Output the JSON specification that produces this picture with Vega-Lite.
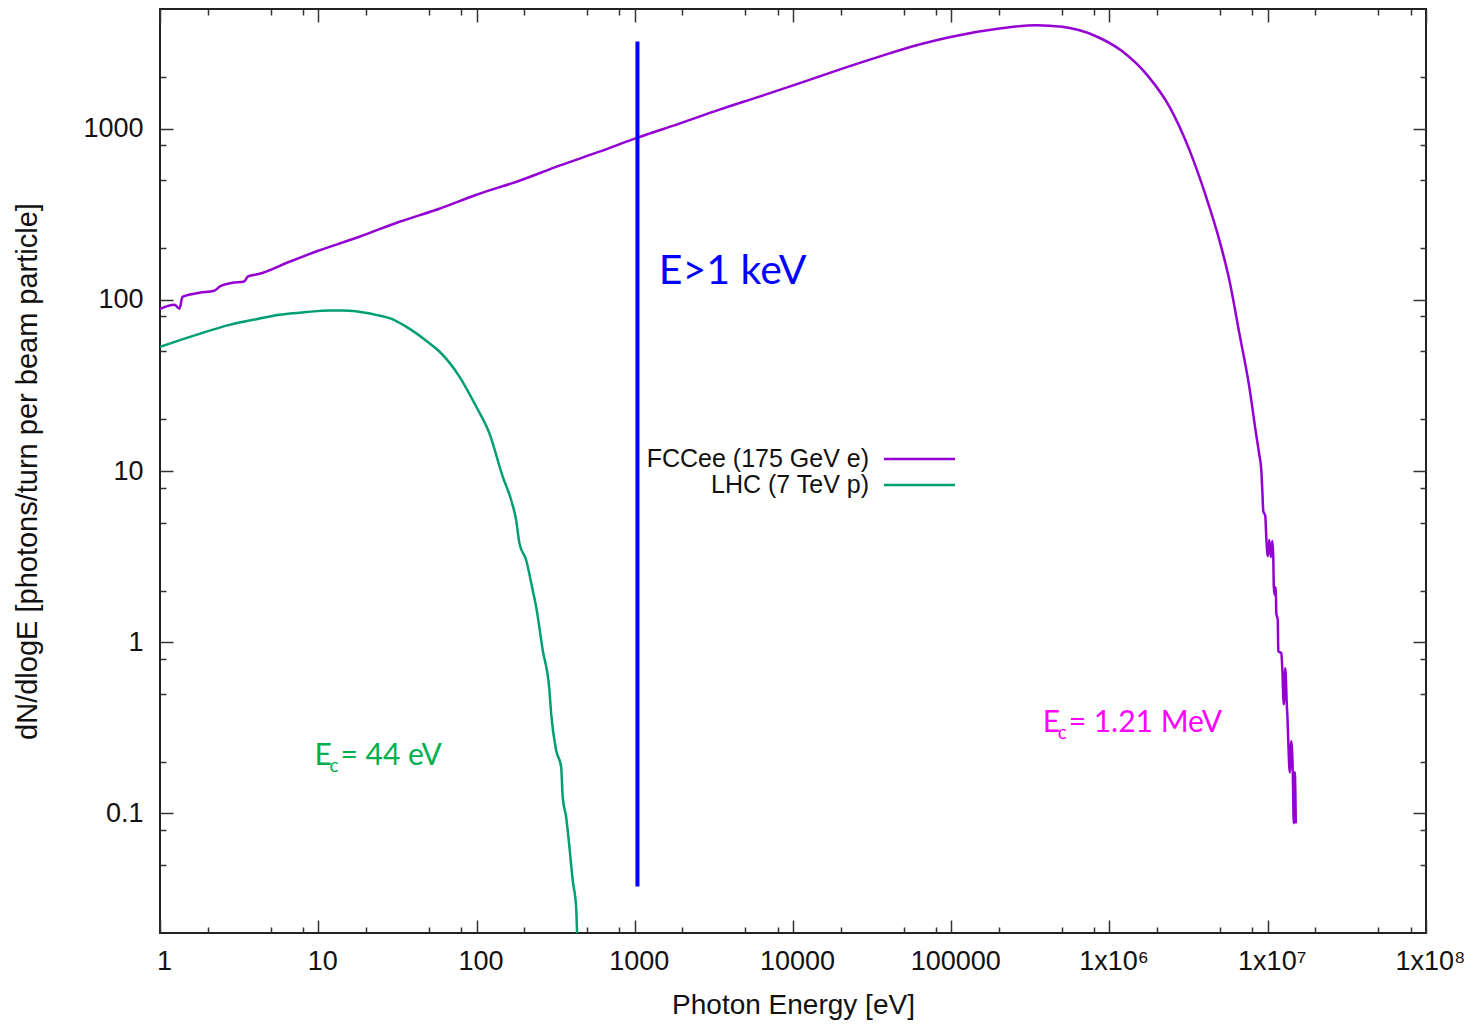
{
  "$schema": "https://vega.github.io/schema/vega-lite/v6.json",
  "width": 1266,
  "height": 924,
  "autosize": {"type": "none"},
  "padding": {"left": 160, "top": 9, "right": 49, "bottom": 92},
  "background": "white",
  "config": {
    "font": "Liberation Sans",
    "view": {"stroke": "#222222", "strokeWidth": 2},
    "axis": {
      "grid": false, "domain": false, "tickColor": "#333333", "tickWidth": 1.5,
      "labelFont": "Liberation Sans", "labelFontSize": 27, "labelColor": "#111111",
      "titleFont": "Liberation Sans", "titleFontSize": 28, "titleColor": "#111111", "titleFontWeight": "normal",
      "labelOverlap": false
    }
  },
  "datasets": {
    "spectra": [
      {"E": 1, "N": 88.6, "beam": "FCCee (175 GeV e)"},
      {"E": 1.235, "N": 93.5, "beam": "FCCee (175 GeV e)"},
      {"E": 1.328, "N": 88.6, "beam": "FCCee (175 GeV e)"},
      {"E": 1.387, "N": 104.1, "beam": "FCCee (175 GeV e)"},
      {"E": 1.777, "N": 109.9, "beam": "FCCee (175 GeV e)"},
      {"E": 2.2, "N": 113, "beam": "FCCee (175 GeV e)"},
      {"E": 2.4, "N": 120, "beam": "FCCee (175 GeV e)"},
      {"E": 2.871, "N": 125.7, "beam": "FCCee (175 GeV e)"},
      {"E": 3.4, "N": 128, "beam": "FCCee (175 GeV e)"},
      {"E": 3.6, "N": 137, "beam": "FCCee (175 GeV e)"},
      {"E": 4.25, "N": 141.9, "beam": "FCCee (175 GeV e)"},
      {"E": 6.58, "N": 166.8, "beam": "FCCee (175 GeV e)"},
      {"E": 10, "N": 193.4, "beam": "FCCee (175 GeV e)"},
      {"E": 18.2, "N": 233.6, "beam": "FCCee (175 GeV e)"},
      {"E": 32.6, "N": 285.8, "beam": "FCCee (175 GeV e)"},
      {"E": 58.3, "N": 340.6, "beam": "FCCee (175 GeV e)"},
      {"E": 100, "N": 411, "beam": "FCCee (175 GeV e)"},
      {"E": 186.7, "N": 496.5, "beam": "FCCee (175 GeV e)"},
      {"E": 334, "N": 607.7, "beam": "FCCee (175 GeV e)"},
      {"E": 598, "N": 733.9, "beam": "FCCee (175 GeV e)"},
      {"E": 1039, "N": 886, "beam": "FCCee (175 GeV e)"},
      {"E": 1914, "N": 1070, "beam": "FCCee (175 GeV e)"},
      {"E": 3426, "N": 1292, "beam": "FCCee (175 GeV e)"},
      {"E": 6133, "N": 1539, "beam": "FCCee (175 GeV e)"},
      {"E": 10350, "N": 1808, "beam": "FCCee (175 GeV e)"},
      {"E": 19630, "N": 2213, "beam": "FCCee (175 GeV e)"},
      {"E": 35130, "N": 2636, "beam": "FCCee (175 GeV e)"},
      {"E": 62850, "N": 3099, "beam": "FCCee (175 GeV e)"},
      {"E": 97230, "N": 3420, "beam": "FCCee (175 GeV e)"},
      {"E": 201200, "N": 3843, "beam": "FCCee (175 GeV e)"},
      {"E": 343200, "N": 4019, "beam": "FCCee (175 GeV e)"},
      {"E": 503100, "N": 3932, "beam": "FCCee (175 GeV e)"},
      {"E": 821300, "N": 3466, "beam": "FCCee (175 GeV e)"},
      {"E": 1204000, "N": 2831, "beam": "FCCee (175 GeV e)"},
      {"E": 1784000, "N": 1987, "beam": "FCCee (175 GeV e)"},
      {"E": 2386000, "N": 1350, "beam": "FCCee (175 GeV e)"},
      {"E": 3193000, "N": 754, "beam": "FCCee (175 GeV e)"},
      {"E": 4070000, "N": 401.9, "beam": "FCCee (175 GeV e)"},
      {"E": 4940000, "N": 224.3, "beam": "FCCee (175 GeV e)"},
      {"E": 5713000, "N": 130.9, "beam": "FCCee (175 GeV e)"},
      {"E": 6607000, "N": 64.1, "beam": "FCCee (175 GeV e)"},
      {"E": 7640000, "N": 31.1, "beam": "FCCee (175 GeV e)"},
      {"E": 8420000, "N": 16.7, "beam": "FCCee (175 GeV e)"},
      {"E": 8843000, "N": 12.41, "beam": "FCCee (175 GeV e)"},
      {"E": 9103000, "N": 10.13, "beam": "FCCee (175 GeV e)"},
      {"E": 9237000, "N": 7.74, "beam": "FCCee (175 GeV e)"},
      {"E": 9372000, "N": 5.84, "beam": "FCCee (175 GeV e)"},
      {"E": 9647000, "N": 5.46, "beam": "FCCee (175 GeV e)"},
      {"E": 9790000, "N": 4.11, "beam": "FCCee (175 GeV e)"},
      {"E": 10007000, "N": 3.18, "beam": "FCCee (175 GeV e)"},
      {"E": 10226000, "N": 3.95, "beam": "FCCee (175 GeV e)"},
      {"E": 10452000, "N": 3.14, "beam": "FCCee (175 GeV e)"},
      {"E": 10683000, "N": 3.9, "beam": "FCCee (175 GeV e)"},
      {"E": 10839000, "N": 3.14, "beam": "FCCee (175 GeV e)"},
      {"E": 10919000, "N": 2.126, "beam": "FCCee (175 GeV e)"},
      {"E": 11079000, "N": 1.883, "beam": "FCCee (175 GeV e)"},
      {"E": 11242000, "N": 2.097, "beam": "FCCee (175 GeV e)"},
      {"E": 11324000, "N": 1.477, "beam": "FCCee (175 GeV e)"},
      {"E": 11572000, "N": 1.345, "beam": "FCCee (175 GeV e)"},
      {"E": 11657000, "N": 0.886, "beam": "FCCee (175 GeV e)"},
      {"E": 12178000, "N": 0.862, "beam": "FCCee (175 GeV e)"},
      {"E": 12356000, "N": 0.705, "beam": "FCCee (175 GeV e)"},
      {"E": 12627000, "N": 0.434, "beam": "FCCee (175 GeV e)"},
      {"E": 12906000, "N": 0.705, "beam": "FCCee (175 GeV e)"},
      {"E": 13191000, "N": 0.434, "beam": "FCCee (175 GeV e)"},
      {"E": 13346000, "N": 0.35, "beam": "FCCee (175 GeV e)"},
      {"E": 13482000, "N": 0.2637, "beam": "FCCee (175 GeV e)"},
      {"E": 13780000, "N": 0.1737, "beam": "FCCee (175 GeV e)"},
      {"E": 14082000, "N": 0.2637, "beam": "FCCee (175 GeV e)"},
      {"E": 14393000, "N": 0.1737, "beam": "FCCee (175 GeV e)"},
      {"E": 14604000, "N": 0.0874, "beam": "FCCee (175 GeV e)"},
      {"E": 14820000, "N": 0.1737, "beam": "FCCee (175 GeV e)"},
      {"E": 15037000, "N": 0.0874, "beam": "FCCee (175 GeV e)"},
      {"E": 1, "N": 53.1, "beam": "LHC (7 TeV p)"},
      {"E": 1.693, "N": 62.4, "beam": "LHC (7 TeV p)"},
      {"E": 2.749, "N": 71.4, "beam": "LHC (7 TeV p)"},
      {"E": 4.054, "N": 77.1, "beam": "LHC (7 TeV p)"},
      {"E": 5.69, "N": 81.7, "beam": "LHC (7 TeV p)"},
      {"E": 8.39, "N": 84.8, "beam": "LHC (7 TeV p)"},
      {"E": 11.77, "N": 86.6, "beam": "LHC (7 TeV p)"},
      {"E": 14.29, "N": 86.6, "beam": "LHC (7 TeV p)"},
      {"E": 15.75, "N": 86.2, "beam": "LHC (7 TeV p)"},
      {"E": 23.2, "N": 81.7, "beam": "LHC (7 TeV p)"},
      {"E": 28.2, "N": 78.2, "beam": "LHC (7 TeV p)"},
      {"E": 35.9, "N": 69.8, "beam": "LHC (7 TeV p)"},
      {"E": 50.4, "N": 55.8, "beam": "LHC (7 TeV p)"},
      {"E": 58.3, "N": 49.9, "beam": "LHC (7 TeV p)"},
      {"E": 78.0, "N": 35.6, "beam": "LHC (7 TeV p)"},
      {"E": 99.5, "N": 23.8, "beam": "LHC (7 TeV p)"},
      {"E": 120.7, "N": 16.6, "beam": "LHC (7 TeV p)"},
      {"E": 146.5, "N": 9.26, "beam": "LHC (7 TeV p)"},
      {"E": 165.5, "N": 6.77, "beam": "LHC (7 TeV p)"},
      {"E": 178.0, "N": 5.17, "beam": "LHC (7 TeV p)"},
      {"E": 186.7, "N": 3.79, "beam": "LHC (7 TeV p)"},
      {"E": 205.9, "N": 3.02, "beam": "LHC (7 TeV p)"},
      {"E": 226.6, "N": 2.01, "beam": "LHC (7 TeV p)"},
      {"E": 238.2, "N": 1.608, "beam": "LHC (7 TeV p)"},
      {"E": 262.1, "N": 0.898, "beam": "LHC (7 TeV p)"},
      {"E": 288.9, "N": 0.524, "beam": "LHC (7 TeV p)"},
      {"E": 296.2, "N": 0.3845, "beam": "LHC (7 TeV p)"},
      {"E": 318.6, "N": 0.2336, "beam": "LHC (7 TeV p)"},
      {"E": 342.6, "N": 0.1866, "beam": "LHC (7 TeV p)"},
      {"E": 350.6, "N": 0.1245, "beam": "LHC (7 TeV p)"},
      {"E": 368.5, "N": 0.0952, "beam": "LHC (7 TeV p)"},
      {"E": 386.6, "N": 0.0635, "beam": "LHC (7 TeV p)"},
      {"E": 405.5, "N": 0.0406, "beam": "LHC (7 TeV p)"},
      {"E": 426.1, "N": 0.0283, "beam": "LHC (7 TeV p)"},
      {"E": 432.3, "N": 0.0195, "beam": "LHC (7 TeV p)"}
    ],
    "cut": [{"E": 1040, "lo": 0.0374, "hi": 3228, "label": "E>1 keV", "ty": 124, "tx": 1420}],
    "critical": [
      {"E": 9.46, "v": 0.1909, "beam": "LHC", "rest": "= 44 eV"},
      {"E": 378000, "v": 0.2977, "beam": "FCCee", "rest": "= 1.21 MeV"}
    ]
  },
  "layer": [
    {
      "data": {"name": "spectra"},
      "mark": {"type": "line", "strokeWidth": 2.5, "clip": true, "interpolate": "monotone"},
      "encoding": {
        "x": {"field": "E", "type": "quantitative",
          "scale": {"type": "log", "domain": [1, 100000000], "nice": false},
          "axis": {"orient": "bottom", "values": [1, 10, 100, 1000, 10000, 100000, 1000000, 10000000, 100000000],
            "ticks": false, "tickSize": 0, "labelPadding": 15, "labelFlush": false, "labelOffset": 4,
            "labelExpr": "datum.value >= 1e8 ? '1x10\u2078' : datum.value >= 1e7 ? '1x10\u2077' : datum.value >= 1e6 ? '1x10\u2076' : format(datum.value, '~g')",
            "title": "Photon Energy [eV]", "titlePadding": 17}},
        "y": {"field": "N", "type": "quantitative",
          "scale": {"type": "log", "domain": [0.02, 5000], "nice": false},
          "axis": {"orient": "left", "values": [0.1, 1, 10, 100, 1000], "ticks": false, "tickSize": 0,
            "labelPadding": 17, "labelExpr": "format(datum.value, '~g')",
            "title": "dN/dlogE [photons/turn per beam particle]", "titleFontSize": 29, "titlePadding": 40}},
        "color": {"field": "beam", "type": "nominal",
          "scale": {"domain": ["FCCee (175 GeV e)", "LHC (7 TeV p)"], "range": ["#9400d3", "#009e73"]},
          "legend": {"orient": "none", "legendX": 700, "legendY": 437.5, "title": null,
            "symbolType": "M-5,0H5", "symbolSize": 201.6, "symbolStrokeWidth": 2.5,
            "labelAlign": "right", "labelOffset": -63, "symbolOffset": 47,
            "labelFont": "Liberation Sans", "labelFontSize": 25, "labelColor": "#111111",
            "labelLimit": 500, "padding": 0, "rowPadding": 0}}
      }
    },
    {
      "data": {"name": "cut"},
      "mark": {"type": "rule", "color": "#0000ff", "strokeWidth": 4},
      "encoding": {
        "x": {"field": "E", "type": "quantitative",
          "scale": {"type": "log", "domain": [1, 100000000], "nice": false},
          "axis": {"orient": "bottom", "values": [1, 10, 100, 1000, 10000, 100000, 1000000, 10000000, 100000000],
            "labels": false, "tickSize": -13, "title": null}},
        "y": {"field": "lo", "type": "quantitative",
          "scale": {"type": "log", "domain": [0.02, 5000], "nice": false},
          "axis": {"orient": "left", "values": [0.1, 1, 10, 100, 1000], "labels": false, "tickSize": -13, "title": null}},
        "y2": {"field": "hi"}
      }
    },
    {
      "data": {"name": "cut"},
      "mark": {"type": "text", "align": "left", "baseline": "alphabetic", "font": "Lato", "fontSize": 41, "color": "#0000ff"},
      "encoding": {
        "x": {"field": "tx", "type": "quantitative",
          "scale": {"type": "log", "domain": [1, 100000000], "nice": false},
          "axis": {"orient": "top", "values": [1, 10, 100, 1000, 10000, 100000, 1000000, 10000000, 100000000],
            "labels": false, "tickSize": -13, "title": null}},
        "y": {"field": "ty", "type": "quantitative",
          "scale": {"type": "log", "domain": [0.02, 5000], "nice": false},
          "axis": {"orient": "right", "values": [0.1, 1, 10, 100, 1000], "labels": false, "tickSize": -13, "title": null}},
        "text": {"field": "label"}
      }
    },
    {
      "data": {"name": "critical"},
      "mark": {"type": "text", "align": "left", "baseline": "alphabetic", "font": "Lato", "fontSize": 30},
      "encoding": {
        "x": {"field": "E", "type": "quantitative",
          "scale": {"type": "log", "domain": [1, 100000000], "nice": false},
          "axis": {"orient": "bottom", "values": [2, 5, 8, 20, 50, 80, 200, 500, 800, 2000, 5000, 8000, 20000, 50000, 80000, 200000, 500000, 800000, 2000000, 5000000, 8000000, 20000000, 50000000, 80000000],
            "labels": false, "tickSize": -6, "title": null}},
        "y": {"field": "v", "type": "quantitative",
          "scale": {"type": "log", "domain": [0.02, 5000], "nice": false},
          "axis": {"orient": "left", "values": [0.05, 0.08, 0.2, 0.5, 0.8, 2, 5, 8, 20, 50, 80, 200, 500, 800, 2000],
            "labels": false, "tickSize": -6, "title": null}},
        "text": {"value": "E"},
        "color": {"condition": {"test": "datum.beam === 'LHC'", "value": "#00b050"}, "value": "#ff00ff"}
      }
    },
    {
      "data": {"name": "critical"},
      "mark": {"type": "text", "align": "left", "baseline": "alphabetic", "font": "Lato", "fontSize": 19, "dx": 15, "dy": 7},
      "encoding": {
        "x": {"field": "E", "type": "quantitative",
          "scale": {"type": "log", "domain": [1, 100000000], "nice": false},
          "axis": {"orient": "top", "values": [2, 5, 8, 20, 50, 80, 200, 500, 800, 2000, 5000, 8000, 20000, 50000, 80000, 200000, 500000, 800000, 2000000, 5000000, 8000000, 20000000, 50000000, 80000000],
            "labels": false, "tickSize": -6, "title": null}},
        "y": {"field": "v", "type": "quantitative",
          "scale": {"type": "log", "domain": [0.02, 5000], "nice": false},
          "axis": {"orient": "right", "values": [0.05, 0.08, 0.2, 0.5, 0.8, 2, 5, 8, 20, 50, 80, 200, 500, 800, 2000],
            "labels": false, "tickSize": -6, "title": null}},
        "text": {"value": "c"},
        "color": {"condition": {"test": "datum.beam === 'LHC'", "value": "#00b050"}, "value": "#ff00ff"}
      }
    },
    {
      "data": {"name": "critical"},
      "mark": {"type": "text", "align": "left", "baseline": "alphabetic", "font": "Lato", "fontSize": 30, "dx": 26},
      "encoding": {
        "x": {"field": "E", "type": "quantitative",
          "scale": {"type": "log", "domain": [1, 100000000], "nice": false}, "axis": null},
        "y": {"field": "v", "type": "quantitative",
          "scale": {"type": "log", "domain": [0.02, 5000], "nice": false}, "axis": null},
        "text": {"field": "rest"},
        "color": {"condition": {"test": "datum.beam === 'LHC'", "value": "#00b050"}, "value": "#ff00ff"}
      }
    }
  ],
  "resolve": {"axis": {"x": "independent", "y": "independent"}}
}
